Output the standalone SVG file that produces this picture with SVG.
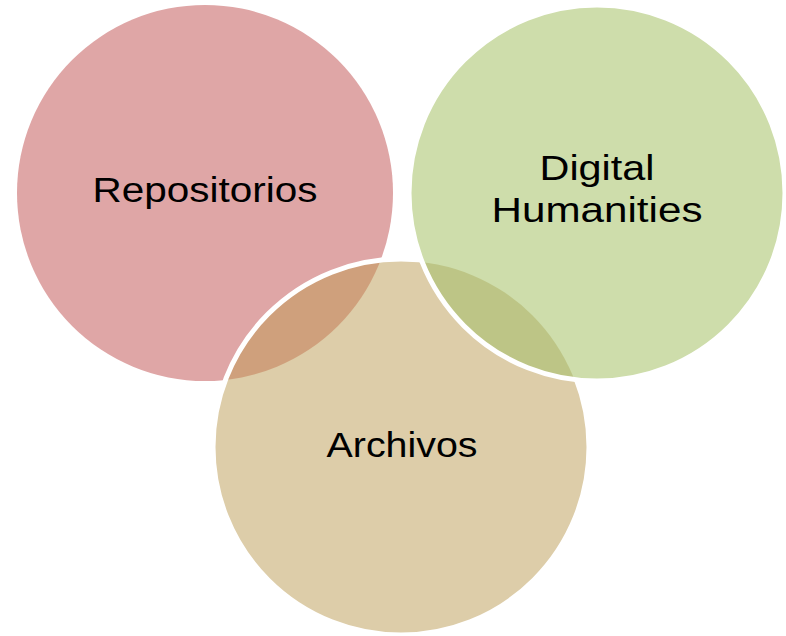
<svg xmlns="http://www.w3.org/2000/svg" width="786" height="636" viewBox="0 0 786 636">
<style>
.lbl{font-family:"Liberation Sans","Noto Sans",sans-serif;font-size:35px;fill:#000;text-anchor:middle}
.edge{fill:none;stroke:#fff;stroke-width:5}
</style>
<defs>
<clipPath id="clipRed"><circle cx="205" cy="193" r="188"/></clipPath>
<clipPath id="clipTan"><circle cx="401" cy="447" r="186"/></clipPath>
</defs>
<rect width="786" height="636" fill="#fff"/>
<g id="repositorios">
<circle cx="205" cy="193" r="188" fill="#DFA6A6"/>
<text class="lbl" x="205" y="202" textLength="225" lengthAdjust="spacingAndGlyphs">Repositorios</text>
</g>
<g id="archivos">
<circle cx="401" cy="447" r="188" fill="#DDCDA9"/>
<circle cx="401" cy="447" r="188" fill="#CFA07C" clip-path="url(#clipRed)"/>
<circle cx="401" cy="447" r="188" class="edge"/>
<text class="lbl" x="402" y="457" textLength="151" lengthAdjust="spacingAndGlyphs">Archivos</text>
</g>
<g id="digital-humanities">
<circle cx="597" cy="193" r="188" fill="#CEDDAB"/>
<circle cx="597" cy="193" r="188" fill="#BDC586" clip-path="url(#clipTan)"/>
<circle cx="597" cy="193" r="188" class="edge"/>
<text class="lbl" x="597" y="180" textLength="115" lengthAdjust="spacingAndGlyphs">Digital</text>
<text class="lbl" x="597" y="222" textLength="211" lengthAdjust="spacingAndGlyphs">Humanities</text>
</g>
<g id="connectors"/>
</svg>
